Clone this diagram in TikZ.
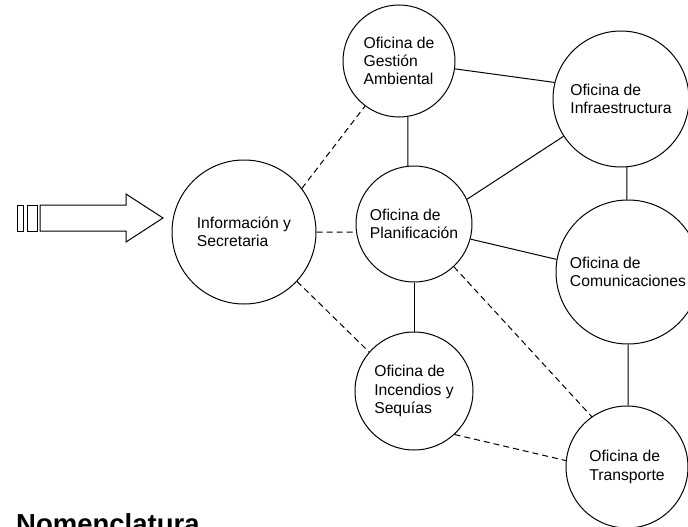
\documentclass[tikz,border=0pt]{standalone}
\usepackage{fontspec}
\setmainfont{Liberation Sans}
\begin{document}
\begin{tikzpicture}[x=1pt,y=1pt,
  office/.style={draw,circle,inner sep=0pt,line width=1pt,align=left,
    font=\fontsize{15.7}{18.3}\selectfont},
  solidlink/.style={line width=1pt},
  dashlink/.style={line width=1pt,dash pattern=on 6pt off 4pt},
  bigarrow/.style={draw,line width=1pt,fill=white}]
\useasboundingbox (0,0) rectangle (688,-527);

\node[office,minimum size=112pt] (gest) at (399,-61) {Oficina de\\Gestión\\Ambiental};
\node[office,minimum size=136pt] (infra) at (621,-99) {Oficina de\\Infraestructura};
\node[office,minimum size=144pt] (info) at (244,-232) {Información y\\Secretaria};
\node[office,minimum size=116pt] (plan) at (414,-224) {Oficina de\\Planificación};
\node[office,minimum size=144pt] (comm) at (628,-272) {Oficina de\\Comunicaciones};
\node[office,minimum size=118pt] (inc) at (414,-391) {Oficina de\\Incendios y\\Sequías};
\node[office,minimum size=122pt] (trans) at (627,-467) {Oficina de\\Transporte};

% solid connectors
\draw[solidlink] (gest.352) -- (infra.166);
\draw[solidlink] (gest.279) -- (plan.96);
\draw[solidlink] (plan.25) -- (infra.213);
\draw[solidlink] (infra.275) -- (comm.91);
\draw[solidlink] (plan.345.5) -- (comm.170.5);
\draw[solidlink] (plan.south) -- (inc.north);
\draw[solidlink] (comm.south) -- (trans.89);

% dashed connectors
\draw[dashlink] (info.37) -- (gest.233.5);
\draw[dashlink] (info.east) -- (plan.188);
\draw[dashlink] (info.317) -- (inc.139);
\draw[dashlink] (plan.313.6) -- (trans.125.4);
\draw[dashlink] (inc.313) -- (trans.174);

% input arrow
\draw[bigarrow] (17,-205) rectangle (23,-231);
\draw[bigarrow] (27,-205) rectangle (37,-231);
\draw[bigarrow] (40,-205) -- (126,-205) -- (126,-194) -- (163,-218)
  -- (126,-242) -- (126,-231) -- (40,-231) -- cycle;

\node[anchor=base west,inner sep=0pt,font=\fontsize{27.5}{30}\selectfont\bfseries]
  (nomen) at (16,-533) {Nomenclatura};
\end{tikzpicture}
\end{document}
